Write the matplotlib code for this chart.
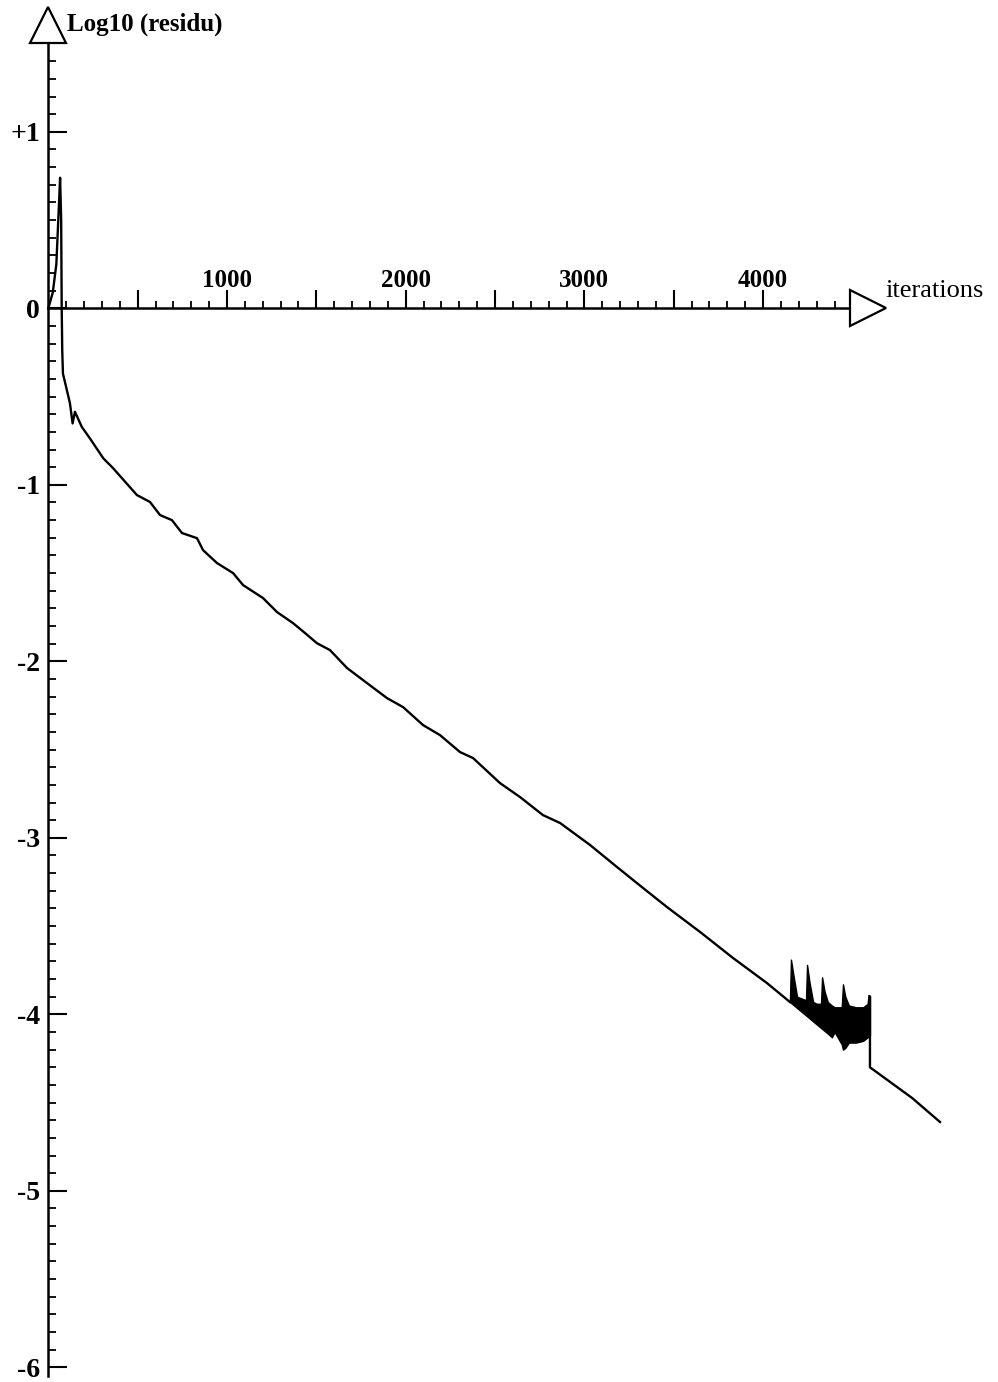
import matplotlib
matplotlib.use('Agg')
import numpy as np
import matplotlib.pyplot as plt
from matplotlib.ticker import FixedLocator, FuncFormatter

# residual history
iters = [0, 25, 45, 58, 66, 72, 75, 78, 82, 121, 136, 149, 187, 233, 308,
         362, 496, 569, 625, 692, 748, 832, 866, 944, 1034, 1090, 1201,
         1280, 1369, 1437, 1503, 1576, 1672, 1761, 1895, 1985, 2097, 2192,
         2304, 2377, 2528, 2640, 2768, 2864, 3031, 3182, 3328, 3462, 3647,
         3832, 4022, 4150]
log_res = [0.0, 0.09, 0.25, 0.55, 0.74, 0.50, 0.0, -0.24, -0.37, -0.537,
           -0.652, -0.586, -0.671, -0.737, -0.85,
           -0.905, -1.058, -1.097, -1.171, -1.200, -1.273, -1.302, -1.370,
           -1.443, -1.500, -1.568, -1.641, -1.721, -1.783, -1.840, -1.897,
           -1.936, -2.038, -2.106, -2.208, -2.259, -2.361, -2.418, -2.514,
           -2.548, -2.690, -2.769, -2.871, -2.916, -3.040, -3.165, -3.284,
           -3.392, -3.533, -3.681, -3.823, -3.930]

# oscillating part near the end (upper / lower envelope)
noise_x = [4150, 4156, 4170, 4190, 4215, 4240, 4246, 4260, 4280, 4300, 4324,
           4330, 4344, 4362, 4385, 4400, 4440, 4447, 4460, 4480, 4520, 4560,
           4585, 4590, 4598]
noise_hi = [-3.93, -3.69, -3.78, -3.90, -3.91, -3.92, -3.72, -3.82, -3.93,
            -3.94, -3.94, -3.79, -3.87, -3.93, -3.95, -3.96, -3.96, -3.83,
            -3.90, -3.95, -3.96, -3.96, -3.94, -3.89, -3.90]
noise_lo = [-3.93, -3.935, -3.947, -3.964, -3.985, -4.006, -4.011, -4.023,
            -4.040, -4.057, -4.077, -4.082, -4.094, -4.109, -4.13, -4.10,
            -4.17, -4.20, -4.19, -4.16, -4.16, -4.15, -4.13, -4.12, -4.12]

# after the oscillation
tail_x = [4598, 4598, 4834, 4990]
tail_y = [-3.90, -4.30, -4.474, -4.61]

x_major = [500, 1000, 1500, 2000, 2500, 3000, 3500, 4000]
x_minor = list(range(100, 4500, 100))
y_major = [-6, -5, -4, -3, -2, -1, 0, 1]
y_minor = [round(v / 10, 1) for v in range(-60, 15)]

plt.rcParams['font.family'] = ['Liberation Serif', 'DejaVu Serif']
plt.rcParams['font.weight'] = 'bold'

fig = plt.figure(figsize=(9.98, 13.82), dpi=100)
ax = fig.add_axes([0, 0, 1, 1])
ax.set_xlim(-270.3, 5314.5)
ax.set_ylim(-6.083, 1.747)

ax.plot(iters, log_res, color='black', lw=1.7, solid_joinstyle='round')
ax.fill_between(noise_x, noise_lo, noise_hi, color='black', lw=1.0)
ax.plot(tail_x, tail_y, color='black', lw=1.7)

# axes through the origin
for s in ['top', 'right']:
    ax.spines[s].set_visible(False)
ax.spines['left'].set_position(('data', 0))
ax.spines['bottom'].set_position(('data', 0))
ax.spines['left'].set_bounds(-6.05, 1.51)
ax.spines['bottom'].set_bounds(0, 4492)
for s in ['left', 'bottom']:
    ax.spines[s].set_linewidth(1.8)

ax.xaxis.set_major_locator(FixedLocator(x_major))
ax.xaxis.set_minor_locator(FixedLocator(x_minor))
ax.yaxis.set_major_locator(FixedLocator(y_major))
ax.yaxis.set_minor_locator(FixedLocator(y_minor))
ax.xaxis.set_major_formatter(FuncFormatter(lambda v, p: '%d' % v if v % 1000 == 0 else ''))
ax.yaxis.set_major_formatter(FuncFormatter(lambda v, p: '+%d' % v if v > 0 else '%d' % v))

ax.tick_params(axis='y', which='major', direction='in', length=14, width=1.5, pad=6, labelsize=20)
ax.tick_params(axis='y', which='minor', direction='in', length=6, width=1.3)
ax.tick_params(axis='x', which='major', direction='in', length=13, width=1.5, pad=-28, labelsize=18)
ax.tick_params(axis='x', which='minor', direction='in', length=5, width=1.3)

# arrow heads
ax.plot([0], [1.608], marker='^', ms=26, mfc='white', mec='black', mew=1.6,
        zorder=5, clip_on=False)
ax.plot([4587], [0], marker='>', ms=26, mfc='white', mec='black', mew=1.6,
        zorder=5, clip_on=False)

ax.text(105, 1.61, 'Log10 (residu)', fontsize=18, fontweight='bold', va='center', ha='left')
ax.text(4683, 0.10, 'iterations', fontsize=19, fontweight='normal', va='center', ha='left')

fig.savefig('out.png', dpi=100)
